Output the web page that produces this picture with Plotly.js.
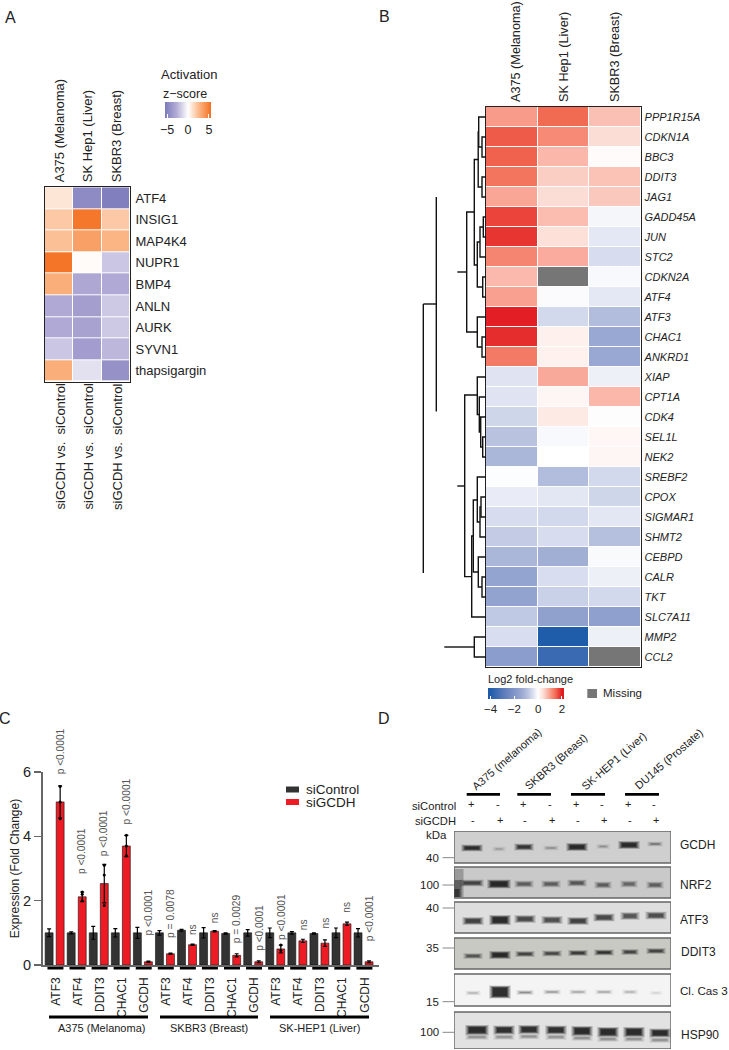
<!DOCTYPE html>
<html>
<head>
<meta charset="utf-8">
<script src="https://cdn.plot.ly/plotly-3.0.1.min.js"></script>
<style>html,body{margin:0;padding:0;background:#fff}#chart{width:729px;height:1050px}</style>
</head>
<body>
<div id="chart"></div>
<script>
// ---------- Panel A ----------
const aSamples = ['A375 (Melanoma)', 'SK Hep1 (Liver)', 'SKBR3 (Breast)'];
const aGenes = ['ATF4','INSIG1','MAP4K4','NUPR1','BMP4','ANLN','AURK','SYVN1','thapsigargin'];
const aZ = [
  [0.9,-4.6,-5.2],
  [2.0,5.2,2.0],
  [2.3,3.55,2.7],
  [5.3,0.15,-1.9],
  [3.0,-3.0,-2.9],
  [-2.9,-3.5,-1.8],
  [-2.9,-3.3,-1.8],
  [-1.9,-3.6,-2.4],
  [3.0,-1.0,-4.2]
];
// ---------- Panel B ----------
const bGenes = ['PPP1R15A','CDKN1A','BBC3','DDIT3','JAG1','GADD45A','JUN','STC2','CDKN2A','ATF4','ATF3','CHAC1','ANKRD1','XIAP','CPT1A','CDK4','SEL1L','NEK2','SREBF2','CPOX','SIGMAR1','SHMT2','CEBPD','CALR','TKT','SLC7A11','MMP2','CCL2'];
const bA375 = [1.05,1.6,1.55,1.4,0.95,1.75,1.85,1.25,0.78,1.0,2.0,1.9,1.35,-0.35,-0.35,-0.55,-0.85,-1.05,-0.03,-0.25,-0.45,-0.7,-1.05,-1.5,-1.55,-0.75,-0.43,-1.75];
const bSKHep = [1.5,1.2,0.8,0.6,0.45,0.75,0.4,0.9,null,-0.05,-0.5,0.2,0.18,0.92,0.12,0.28,-0.08,0,-0.95,-0.32,-0.5,-0.45,-1.25,-0.43,-0.62,-1.6,-4,-3.5];
const bSKBR3 = [0.72,0.45,0.05,0.7,0.65,-0.12,-0.3,-0.45,-0.08,-0.3,-0.95,-1.4,-1.4,-0.2,0.8,-0.02,0.1,0.12,-0.5,-0.55,-0.32,-0.9,-0.07,-0.2,-0.5,-1.65,-0.2,null];
const bMissing = [[1,8],[2,27]];
// dendrogram brackets: height, rowA, rowB, armA, armB (row = leaf position, height = merge height)
const dendroBrackets = [
  [4,1,2,0,0],[7.3,0,1.5,0,4],[4,3,4,0,0],[7.8,0.75,3.5,7.3,4],[11.7,2.125,7.4,7.8,8.7],
  [2.7,5,6,0,0],[6,5.5,7,2.7,0],[3.3,8,9,0,0],[8.7,6.25,8.5,6,3.3],[19.3,4.75,10.75,11.7,8.7],
  [4,11,12,0,0],[8.7,10,11.5,0,4],
  [3.3,16,17,0,0],[5.3,15,16.5,0,3.3],[6.7,14,15.75,0,5.3],[8.7,13,14.875,0,6.7],[21.3,13.9,22.98,8.7,14.3],
  [5,19,20,0,0],[6,19.5,21,5,0],[8.7,18,20.25,0,6],[12.7,19.15,22.75,8.7,7.7],
  [4,23,24,0,0],[7.7,22,23.5,0,4],[14.3,20.95,25,12.7,0],[11.7,26,27,0,0]
];
// detached stems and long branches of the printed tree: height1,row1,height2,row2
const dendroStems = [
  [19.3,7.75,28.7,7.75],[21.3,18.45,28.7,18.45],[11.7,26.5,41.7,26.5],
  [49.7,4,49.7,14.73],[49.7,9.35,62.7,9.35],[62.7,9.35,62.7,22.8]
];
// ---------- Panel C ----------
const cGenes = ['ATF3','ATF4','DDIT3','CHAC1','GCDH','ATF3','ATF4','DDIT3','CHAC1','GCDH','ATF3','ATF4','DDIT3','CHAC1','GCDH'];
const cControl = [1,1,1,1,1,1,1.08,1,0.98,1,1,1,0.98,1,1];
const cGCDH = [5.07,2.12,2.53,3.7,0.1,0.35,0.63,1.05,0.3,0.1,0.5,0.75,0.68,1.28,0.1];
const cControlErr = [0.12,0.03,0.2,0.13,0.17,0.07,0.03,0.16,0.02,0.1,0.15,0.04,0.02,0.15,0.13];
const cGCDHErr = [0.5,0.15,0.6,0.33,0.02,0.02,0.02,0.02,0.05,0.03,0.12,0.05,0.1,0.05,0.03];
const cDotsIndex = [0,0,0,1,1,1,2,2,2,3,3,3,10,10];
const cDotsGCDH = [5.55,4.55,5.07,2.27,2.0,2.2,3.1,2.8,1.85,4.03,3.4,3.7,0.62,0.45];
const cPText = ['p <0.0001','p <0.0001','p <0.0001','p <0.0001','p <0.0001','p = 0.0078','ns','ns','p = 0.0029','p <0.0001','p <0.0001','ns','ns','ns','p <0.0001'];
const cPBase = [5.87,2.77,3.33,4.32,0.87,0.78,0.87,1.24,0.62,0.37,0.71,1.03,1.09,1.55,0.68];
const cGroups = ['A375 (Melanoma)','SKBR3 (Breast)','SK-HEP1 (Liver)'];
// ---------- Panel D ----------
const dCells = ['A375 (melanoma)','SKBR3 (Breast)','SK-HEP1 (Liver)','DU145 (Prostate)'];
const dSiControl = ['+','-','+','-','+','-','+','-'];
const dSiGCDH = ['-','+','-','+','-','+','-','+'];
const dProteins = ['GCDH','NRF2','ATF3','DDIT3','Cl. Cas 3','HSP90'];
const dLanes = [472,499,524,551,577,603,629,655];
const dStrength = {
  GCDH:[.95,.2,.85,.25,1,.25,1,.4],
  NRF2:[.7,1,.5,.5,.55,.5,.45,.5],
  ATF3:[.75,1,.7,.65,.75,.7,.6,.65],
  DDIT3:[.6,1,.75,.7,.85,.9,.75,.75],
  Cas3:[.2,1,.35,.3,.25,.25,.2,.08],
  HSP90:[1,.95,.95,.95,1,1,1,1]
};
const dBandY = {
  GCDH:[848,849,847,848,847,846.5,845,844],
  NRF2:[883,884,884,884,883,885,884,885],
  ATF3:[921,920,919,920,921,917.5,916,915.5],
  DDIT3:[956,955,954,953.5,953,952.5,952,951],
  Cas3:[993,992,992.5,992,992,992,992,993],
  HSP90:[1030,1030,1029.5,1030,1031,1032,1032,1033]
};
const dThick = {
  GCDH:[4,2,4,2,5,2,5,2],
  NRF2:[4,6,4,4,4,4,4,4],
  ATF3:[5,7,5,5,5,5,5,5],
  DDIT3:[3,5,3,3,3,3,3,3],
  Cas3:[2,10,2,2,2,2,2,2],
  HSP90:[7,6,6,6,7,7,7,6]
};
const dHalf = {
  GCDH:[11,7,10,8,11,7,11,8],
  NRF2:[12,12,10,10,10,9,9,9],
  ATF3:[11,11,11,11,11,11,10,11],
  DDIT3:[10,11,10,10,10,10,9,10],
  Cas3:[8,11,9,9,9,9,8,7],
  HSP90:[12,11,11,11,11,11,11,11]
};
const dLaneShift = {GCDH:0,NRF2:0,ATF3:1,DDIT3:1,Cas3:1,HSP90:5};
const dBoxes = {GCDH:[831,863,'#cfcfcf'],NRF2:[867,898,'#c9c9c9'],ATF3:[902,933,'#dedede'],DDIT3:[938,969,'#c9c9c4'],Cas3:[974,1006,'#f4f4f4'],HSP90:[1012,1049,'#e2e2e2']};
const dSmears = [[[459,459],[869,897],9,0.25],[[458,458],[880,897],7,0.4],[[457,457],[889,897],5,0.5]];
const dMarkers = [['40',857.7],['100',885],['40',908],['35',948],['15',1001.7],['100',1032.3]];

// ---------- helpers ----------
const W = 729, H = 1050;
const SANS = 'Liberation Sans, Arial, sans-serif';
const INK = '#222';
const fx = p => p / W;
const fy = p => 1 - p / H;
const dom = (a, b) => [a / W, b / W];
const domY = (top, bottom) => [1 - bottom / H, 1 - top / H];
const ann = [];
const shp = [];
function label(text, x, y, o) {
  ann.push(Object.assign({text, x: fx(x), y: fy(y), xref:'paper', yref:'paper', showarrow:false,
    xanchor:'center', yanchor:'middle', font:{family:SANS, size:12, color:INK}}, o || {}));
}
const traces = [];

// Panel A
const aScale = [[0,'#7c7abb'],[0.25,'#b3acd6'],[0.5,'#ffffff'],[0.75,'#fbb483'],[1,'#f37021']];
traces.push({type:'heatmap', z:aZ, x:[0,1,2], y:aGenes, xaxis:'x', yaxis:'y', xgap:1, ygap:1,
  zmin:-5.5, zmax:5.5, colorscale:aScale, hoverinfo:'z',
  colorbar:{orientation:'h', lenmode:'pixels', len:46, thicknessmode:'pixels', thickness:16,
    x:fx(165), xanchor:'left', y:fy(102), yanchor:'top', xpad:0, ypad:0, outlinewidth:0,
    tickvals:[-5,0,5], ticktext:['−5','0','5'], ticks:'inside', ticklen:4, tickcolor:'#fff', tickwidth:1,
    tickfont:{family:SANS, size:12.5, color:INK}}});
label('Activation', 189, 75, {font:{family:SANS,size:13,color:INK}});
label('z−score', 185, 94, {font:{family:SANS,size:12.5,color:INK}});
[60,88,117.5].forEach(px => label('siGCDH vs.\u00a0 siControl', px, 446.5, {textangle:-90, font:{family:SANS,size:13,color:INK}}));

// Panel B
const bZ = bGenes.map((g,i) => [bA375[i], bSKHep[i], bSKBR3[i]]);
const bFrac = v => (v + 4.2) / 6.4;
const bScale = [[bFrac(-4.2),'#1b59a8'],[bFrac(-4),'#1f5dab'],[bFrac(-3),'#5578b8'],[bFrac(-2),'#8295c8'],[bFrac(-1.5),'#94a4d0'],[bFrac(-1),'#aeb9da'],[bFrac(-0.5),'#d2d9ec'],[bFrac(0),'#ffffff'],[bFrac(0.5),'#fcd9d0'],[bFrac(1),'#f9a090'],[bFrac(1.5),'#f16a52'],[bFrac(2),'#e31e24'],[bFrac(2.2),'#dc1820']];
traces.push({type:'heatmap', z:bZ, x:[0,1,2], y:bGenes, xaxis:'x2', yaxis:'y2', xgap:1, ygap:1,
  zmin:-4.2, zmax:2.2, colorscale:bScale, hoverongaps:false, hoverinfo:'z',
  colorbar:{orientation:'h', lenmode:'pixels', len:76, thicknessmode:'pixels', thickness:11,
    x:fx(488.3), xanchor:'left', y:fy(688.3), yanchor:'top', xpad:0, ypad:0, outlinewidth:0,
    tickvals:[-4,-2,0,2], ticktext:['−4','−2','0','2'], ticks:'inside', ticklen:3, tickcolor:'#fff', tickwidth:1,
    tickfont:{family:SANS, size:11.5, color:INK}}});
const missZ = bGenes.map(() => [null,null,null]);
bMissing.forEach(m => { missZ[m[1]][m[0]] = 1; });
traces.push({type:'heatmap', z:missZ, x:[0,1,2], y:bGenes, xaxis:'x2', yaxis:'y2', xgap:1, ygap:1,
  zmin:0, zmax:1, showscale:false, colorscale:[[0,'#767676'],[1,'#767676']], hoverongaps:false, hoverinfo:'skip'});
label('Log2 fold-change', 486, 679, {xanchor:'left', font:{family:SANS,size:11,color:INK}});
label('Missing', 600.7, 693, {xanchor:'left', font:{family:SANS,size:11.5,color:INK}});
shp.push({type:'rect', xref:'paper', yref:'paper', x0:fx(587.3), x1:fx(597), y0:fy(689), y1:fy(698), fillcolor:'#767676', line:{width:0}});

// Dendrogram
const dH = [], dR = [];
dendroBrackets.forEach(b => {
  dH.push(b[3], b[0], b[0], b[4], null);
  dR.push(b[1], b[1], b[2], b[2], null);
});
dendroStems.forEach(s => { dH.push(s[0], s[2], null); dR.push(s[1], s[3], null); });
traces.push({type:'scatter', mode:'lines', x:dH, y:dR, xaxis:'x3', yaxis:'y3', line:{color:'#111', width:1.4}, hoverinfo:'skip', connectgaps:false});

// Panel C
const cCtrlX = cControl.map((v,i) => 2*i);
const cGcdhX = cGCDH.map((v,i) => 2*i+1);
traces.push({type:'bar', name:'siControl', x:cCtrlX, y:cControl, xaxis:'x4', yaxis:'y4', width:0.72,
  marker:{color:'#333333', line:{color:'#111', width:0.6}},
  error_y:{type:'data', array:cControlErr, visible:true, color:'#000', thickness:1.2, width:2}});
traces.push({type:'bar', name:'siGCDH', x:cGcdhX, y:cGCDH, xaxis:'x4', yaxis:'y4', width:0.72,
  marker:{color:'#ed1c24', line:{color:'#111', width:0.6}},
  error_y:{type:'data', array:cGCDHErr, visible:true, color:'#000', thickness:1.2, width:2}});
traces.push({type:'scatter', mode:'markers', x:cDotsIndex.map(i => 2*i+1), y:cDotsGCDH, xaxis:'x4', yaxis:'y4',
  marker:{size:3, color:'#000'}, hoverinfo:'y'});
cGenes.forEach((g,i) => {
  shp.push({type:'line', xref:'x4', yref:'paper', x0:2*i-0.15, x1:2*i+1.3, y0:fy(968.3), y1:fy(968.3), line:{color:'#000', width:2.6}});
  ann.push({text:cPText[i], xref:'x4', yref:'y4', x:2*i+1, y:cPBase[i], textangle:-90, showarrow:false,
    xanchor:'center', yanchor:'bottom', font:{family:SANS, size:10.2, color:'#555'}});
});
[[49,148],[160,258],[270,369]].forEach((r,k) => {
  shp.push({type:'line', xref:'paper', yref:'paper', x0:fx(r[0]), x1:fx(r[1]), y0:fy(1017), y1:fy(1017), line:{color:'#000', width:3}});
  label(cGroups[k], (r[0]+r[1])/2 + (k===0?3:0), 1027.5, {font:{family:SANS,size:11,color:INK}});
});
shp.push({type:'rect', xref:'paper', yref:'paper', x0:fx(286), x1:fx(299), y0:fy(786.5), y1:fy(792.5), fillcolor:'#333333', line:{width:0}});
shp.push({type:'rect', xref:'paper', yref:'paper', x0:fx(286), x1:fx(299), y0:fy(799), y1:fy(805), fillcolor:'#ed1c24', line:{width:0}});
label('siControl', 304, 789, {xanchor:'left', font:{family:SANS,size:13.5,color:INK}});
label('siGCDH', 304, 802, {xanchor:'left', font:{family:SANS,size:13.5,color:INK}});

// Panel D
dProteins.forEach((name) => {
  const key = name === 'Cl. Cas 3' ? 'Cas3' : name;
  const box = dBoxes[key];
  shp.push({type:'rect', xref:'x5', yref:'y5', layer:'below', x0:454, x1:671, y0:box[0], y1:box[1], fillcolor:box[2], line:{color:'#666', width:1.4}});
  dLanes.forEach((lx,i) => {
    const s = dStrength[key][i], t = dThick[key][i], hw = dHalf[key][i], cx = lx + dLaneShift[key], cy = dBandY[key][i];
    const rows = key === 'HSP90' ? [[cy+7, s*0.3, 3],[cy, s, t]] : [[cy, s, t]];
    rows.forEach(r => {
      [[r[2]+3, hw, .14],[r[2]+2, hw-1, .2],[r[2]+1, hw-2, .28],[r[2], hw-3, .38],[Math.max(r[2]-1.5,1), hw-4, .55]].forEach(layer => {
        traces.push({type:'scatter', mode:'lines', x:[cx-layer[1], cx+layer[1]], y:[r[0], r[0]], xaxis:'x5', yaxis:'y5',
          line:{color:'rgba(15,15,15,'+(r[1]*layer[2]).toFixed(3)+')', width:layer[0]}, hoverinfo:'skip'});
      });
    });
  });
});
dSmears.forEach(m => traces.push({type:'scatter', mode:'lines', x:m[0], y:m[1], xaxis:'x5', yaxis:'y5',
  line:{color:'rgba(10,10,10,'+m[3]+')', width:m[2]}, hoverinfo:'skip'}));
[[506.7,759],[555.5,762],[613.7,760.7],[668.7,759]].forEach((p,i) =>
  label(dCells[i], p[0], p[1], {textangle:-41, font:{family:SANS,size:11,color:INK}}));
[[466.7,500],[517.3,551],[571,605],[625,659]].forEach(r =>
  shp.push({type:'line', xref:'paper', yref:'paper', x0:fx(r[0]), x1:fx(r[1]), y0:fy(794.3), y1:fy(794.3), line:{color:'#000', width:2.8}}));
label('siControl', 457.7, 805.5, {xanchor:'right', font:{family:SANS,size:11.2,color:INK}});
label('siGCDH', 457.7, 820.5, {xanchor:'right', font:{family:SANS,size:11.2,color:INK}});
label('kDa', 449, 835, {xanchor:'right', font:{family:SANS,size:11.5,color:INK}});
dLanes.forEach((lx,i) => {
  label(dSiControl[i], lx-1, 804, {font:{family:SANS,size:11,color:INK}});
  label(dSiGCDH[i], lx+1, 820, {font:{family:SANS,size:11,color:INK}});
});
dMarkers.forEach(m => {
  label(m[0], 441, m[1], {xanchor:'right', font:{family:SANS,size:11.5,color:INK}});
  shp.push({type:'line', xref:'paper', yref:'paper', x0:fx(442.5), x1:fx(454), y0:fy(m[1]), y1:fy(m[1]), line:{color:'#888', width:1}});
});
[['GCDH',678,845,12],['NRF2',677.7,884.7,12],['ATF3',677.7,920,12],['DDIT3',679.3,952,12],['Cl. Cas 3',678,990,11.6],['HSP90',679,1035,12]].forEach(p =>
  label(p[0], p[1], p[2], {xanchor:'left', font:{family:SANS,size:p[3],color:INK}}));

// Panel letters
[['A',10,17],['B',384,16],['C',5,718],['D',384,718]].forEach(p =>
  label(p[0], p[1], p[2], {font:{family:SANS,size:16,color:INK}}));

const none = {showgrid:false, zeroline:false, showticklabels:false, ticks:'', showline:false};
const boxLine = {showline:true, mirror:true, linecolor:'#222', linewidth:1.4, showgrid:false, zeroline:false};
const layout = {
  width:W, height:H, margin:{l:0,r:0,t:0,b:0}, paper_bgcolor:'#fff', plot_bgcolor:'rgba(0,0,0,0)',
  showlegend:false, barmode:'overlay', hovermode:'closest',
  font:{family:SANS, color:INK},
  xaxis:Object.assign({}, boxLine, {domain:dom(45,130), anchor:'y', side:'top', range:[-0.5,2.5], tickvals:[0.02,1.02,2.03], ticktext:aSamples,
    tickangle:-90, ticks:'outside', ticklen:1, tickcolor:'rgba(0,0,0,0)', tickfont:{family:SANS,size:13,color:INK}}),
  yaxis:Object.assign({}, boxLine, {domain:domY(187.3,381.7), anchor:'x', side:'right', type:'category', autorange:'reversed',
    ticks:'outside', ticklen:1.5, tickcolor:'rgba(0,0,0,0)', tickfont:{family:SANS,size:13,color:INK}}),
  xaxis2:Object.assign({}, boxLine, {domain:dom(486,641), anchor:'y2', side:'top', range:[-0.5,2.5], tickvals:[0.08,1,2], ticktext:aSamples,
    tickangle:-90, ticks:'outside', ticklen:1, tickcolor:'rgba(0,0,0,0)', tickfont:{family:SANS,size:12.7,color:INK}}),
  yaxis2:Object.assign({}, boxLine, {domain:domY(107,667), anchor:'x2', side:'right', type:'category', autorange:'reversed',
    tickmode:'array', tickvals:bGenes, ticktext:bGenes.map(g => '<i>'+g+'</i>'),
    ticks:'', ticklen:0, tickfont:{family:SANS,size:11,color:INK}}),
  xaxis3:Object.assign({}, none, {domain:dom(420,486), anchor:'y3', range:[66,0]}),
  yaxis3:Object.assign({}, none, {domain:domY(107,667), anchor:'x3', range:[27.5,-0.5]}),
  xaxis4:{domain:dom(42.5,379), anchor:'y4', range:[-0.6,29.9], showgrid:false, zeroline:false, showline:true, linecolor:'#666', linewidth:1.5,
    ticks:'outside', ticklen:6, tickcolor:'rgba(0,0,0,0)', tickangle:-90, tickvals:cGenes.map((g,i) => 2*i+0.6), ticktext:cGenes,
    tickfont:{family:SANS,size:12,color:INK}},
  yaxis4:{domain:domY(772,965), anchor:'x4', range:[0,6], tickvals:[0,2,4,6], showgrid:false, zeroline:false, showline:true, linecolor:'#666', linewidth:1.5,
    ticks:'outside', ticklen:7, tickwidth:1.2, tickcolor:'#666', tickfont:{family:SANS,size:14.5,color:INK},
    title:{text:'Expression (Fold Change)', font:{family:SANS,size:12,color:INK}, standoff:1}},
  xaxis5:Object.assign({}, none, {domain:dom(454,671), anchor:'y5', range:[454,671]}),
  yaxis5:Object.assign({}, none, {domain:domY(831,1049), anchor:'x5', range:[1049,831]}),
  annotations:ann, shapes:shp
};
Plotly.newPlot('chart', traces, layout, {displayModeBar:false, staticPlot:true});
</script>
</body>
</html>
